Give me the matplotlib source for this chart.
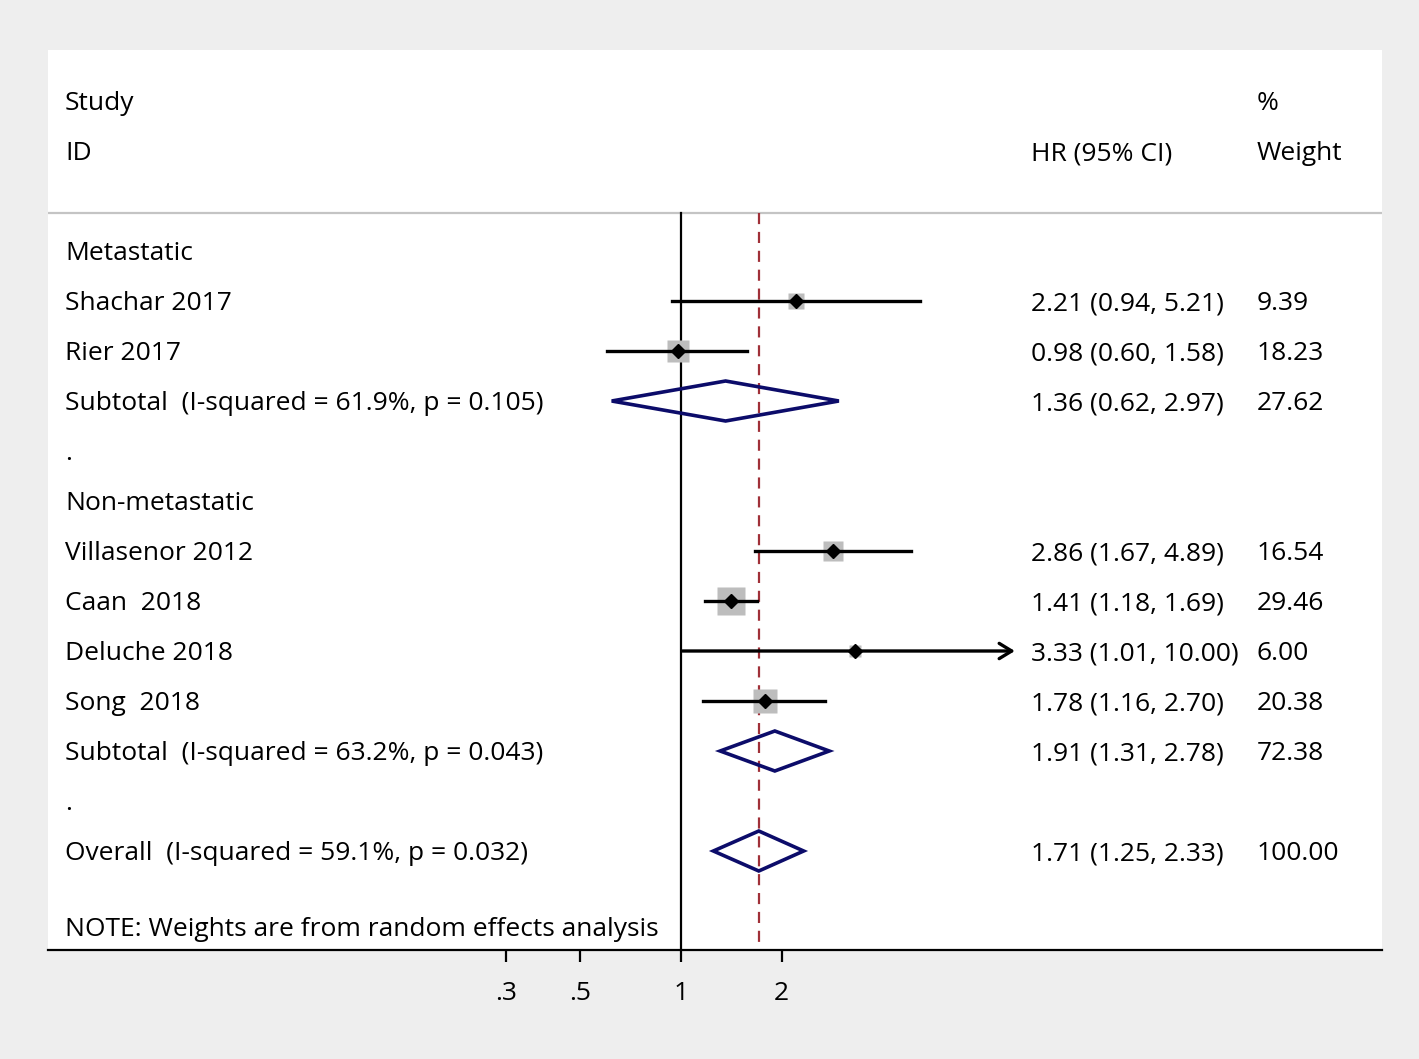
import numpy as np
import matplotlib
matplotlib.use("Agg")
import matplotlib.pyplot as plt
from matplotlib.ticker import FixedLocator, NullLocator

plt.rcParams['font.family'] = ['Open Sans', 'DejaVu Sans']

# study level data
studies = ["Shachar 2017", "Rier 2017", "Villasenor 2012", "Caan  2018",
           "Deluche 2018", "Song  2018"]
study_rows = [1, 2, 6, 7, 8, 9]
hr = [2.21, 0.98, 2.86, 1.41, 3.33, 1.78]
lo = [0.94, 0.60, 1.67, 1.18, 1.01, 1.16]
hi = [5.21, 1.58, 4.89, 1.69, 10.00, 2.70]
weights = [9.39, 18.23, 16.54, 29.46, 6.00, 20.38]

# pooled estimates
pooled_labels = ["Subtotal  (I-squared = 61.9%, p = 0.105)",
                 "Subtotal  (I-squared = 63.2%, p = 0.043)",
                 "Overall  (I-squared = 59.1%, p = 0.032)"]
pooled_rows = [3, 10, 12]
pooled_hr = [1.36, 1.91, 1.71]
pooled_lo = [0.62, 1.31, 1.25]
pooled_hi = [2.97, 2.78, 2.33]
pooled_w = [27.62, 72.38, 100.00]

group_labels = ["Metastatic", "Non-metastatic"]
group_rows = [0, 5]
dot_rows = [4, 11]

xticks = [0.3, 0.5, 1, 2]
xticklabels = [".3", ".5", "1", "2"]

W, H = 1419, 1059
fig = plt.figure(figsize=(W / 100, H / 100), dpi=100, facecolor="#eeeeee")
ax = fig.add_axes([48 / W, (H - 950) / H, (1382 - 48) / W, 900 / H])
ax.set_facecolor("white")

# 1 row = 50 px, ln unit = 145 px, x=1 at px 681
ax.set_xscale("log")
ax.set_xlim(np.exp((48 - 681) / 145), np.exp((1382 - 681) / 145))
ax.set_ylim(13.98, -4.02)

for s in ["top", "left", "right"]:
    ax.spines[s].set_visible(False)
ax.spines["bottom"].set_linewidth(1.6)
ax.xaxis.set_major_locator(FixedLocator(xticks))
ax.xaxis.set_minor_locator(NullLocator())
ax.set_xticklabels(xticklabels, fontsize=19)
ax.tick_params(axis="x", direction="out", length=8.5, width=1.6, pad=14)
ax.set_yticks([])

top_line = -0.76
ax.axhline(top_line, color="#c4c4c4", lw=1.6)
ax.plot([1, 1], [top_line, 13.98], color="black", lw=1.6)
ax.plot([pooled_hr[2]] * 2, [top_line, 13.98], color="#a03038", lw=1.6,
        dashes=(5, 3.5))

fs = 19
va = "center_baseline"
tr = ax.get_yaxis_transform()
x_lab = (65 - 48) / (1382 - 48)
x_hr = (1031 - 48) / (1382 - 48)
x_w = (1257 - 48) / (1382 - 48)


def put(x, r, s):
    ax.text(x, r, s, transform=tr, fontsize=fs, va=va)


put(x_lab, -3, "Study")
put(x_lab, -2, "ID")
put(x_hr, -2, "HR (95% CI)")
put(x_w, -3, "%")
put(x_w, -2, "Weight")

for lab, r in zip(group_labels, group_rows):
    put(x_lab, r, lab)
for r in dot_rows:
    put(x_lab, r, ".")

for name, r, h, l, u, w in zip(studies, study_rows, hr, lo, hi, weights):
    side = 5.1 * np.sqrt(w) * 0.72
    ax.plot(h, r, marker="s", ms=side, color="#bdbdbd", mec="none", zorder=3)
    if u >= 10:
        ax.annotate("", xy=(u, r), xytext=(l, r),
                    arrowprops=dict(arrowstyle="->,head_length=0.9,head_width=0.55",
                                    lw=2.4, color="black", shrinkA=0, shrinkB=0),
                    zorder=4)
    else:
        ax.plot([l, u], [r, r], color="black", lw=2.4, zorder=4)
    ax.plot(h, r, marker="D", ms=7, color="black", zorder=5)
    put(x_lab, r, name)
    put(x_hr, r, f"{h:.2f} ({l:.2f}, {u:.2f})")
    put(x_w, r, f"{w:.2f}")

for lab, r, h, l, u, w in zip(pooled_labels, pooled_rows, pooled_hr,
                              pooled_lo, pooled_hi, pooled_w):
    ax.fill([l, h, u, h, l], [r, r - 0.4, r, r + 0.4, r], facecolor="none",
            edgecolor="#0c0c6a", lw=2.6, zorder=4)
    put(x_lab, r, lab)
    put(x_hr, r, f"{h:.2f} ({l:.2f}, {u:.2f})")
    put(x_w, r, f"{w:.2f}")

put(x_lab, 13.5, "NOTE: Weights are from random effects analysis")

fig.savefig("out.png", dpi=100, facecolor=fig.get_facecolor())
